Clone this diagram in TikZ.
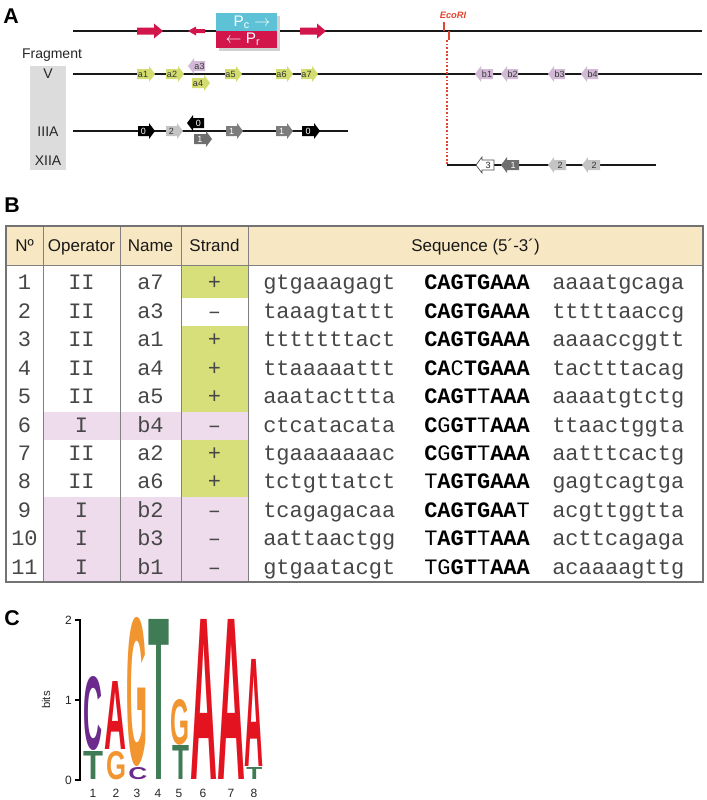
\documentclass[tikz,border=0pt]{standalone}
\usepackage{fontspec}
\setmainfont{Liberation Sans}
\setmonofont{Liberation Mono}
\usepackage{graphicx}
\definecolor{gene}{HTML}{D3DC6E}
\definecolor{lil}{HTML}{D2BAD6}
\definecolor{crim}{HTML}{D2154B}
\definecolor{cyanb}{HTML}{5EC2D7}
\definecolor{eco}{HTML}{E2452F}
\definecolor{hdr}{HTML}{F7E7C3}
\definecolor{grn}{HTML}{D7DF7B}
\definecolor{pnk}{HTML}{EEDCEC}
\definecolor{gbox}{HTML}{DCDCDC}
\definecolor{lgray}{HTML}{C4C4C4}
\definecolor{dgray}{HTML}{6E6E6E}
\definecolor{lpur}{HTML}{6C2A8C}
\definecolor{lred}{HTML}{E3131F}
\definecolor{lora}{HTML}{F0952F}
\definecolor{lgrn}{HTML}{3F7C56}
\newfontfamily\logofont{Liberation Sans Bold}
% right-pointing gene arrow: name, x1, x2, y, path style, label, text colour
\newcommand\gR[7]{%
  \path[#5] (#2,#4-5) -- (#3-6,#4-5) -- (#3-6,#4-8) -- (#3,#4) -- (#3-6,#4+8) -- (#3-6,#4+5) -- (#2,#4+5) -- cycle;
  \node[glab,text=#7] (#1) at ({(#2+#3-6)/2},#4) {#6};}
% left-pointing gene arrow
\newcommand\gL[7]{%
  \path[#5] (#3,#4-5) -- (#2+6,#4-5) -- (#2+6,#4-8) -- (#2,#4) -- (#2+6,#4+8) -- (#2+6,#4+5) -- (#3,#4+5) -- cycle;
  \node[glab,text=#7] (#1) at ({(#2+6+#3)/2},#4) {#6};}
% logo letter: name, colour, x1, x2, ytop, ybottom, letter
\newcommand\logoL[7]{%
  \pgfmathsetlengthmacro\lw{(#4-#3)*0.75pt}%
  \pgfmathsetlengthmacro\lh{(#6-#5)*0.75pt}%
  \node[inner sep=0pt,anchor=south west,text=#2] (#1) at (#3,#6) {\resizebox{\lw}{\lh}{\logofont #7}};}
\tikzset{
  dna/.style={line width=1.1pt,black!90},
  glab/.style={inner sep=0pt,font=\fontsize{6.75}{7}\selectfont},
  plab/.style={font=\bfseries\fontsize{16}{18}\selectfont,inner sep=0pt,anchor=base west},
  frag/.style={font=\fontsize{10.5}{12}\selectfont,inner sep=0pt,text=black!85},
  hdrt/.style={font=\fontsize{12.75}{14}\selectfont,inner sep=0pt,anchor=base,text=black!90},
  mono/.style={font=\ttfamily\fontsize{16.5}{18}\selectfont,inner sep=0pt,text=black!72},
  tline/.style={draw=black!50,line width=0.75pt},
  axl/.style={font=\fontsize{9}{10}\selectfont,inner sep=0pt,text=black!85},
}
\begin{document}
\begin{tikzpicture}[x=0.75pt,y=-0.75pt]
\useasboundingbox (0,0) rectangle (707,800);
% ================= Panel A =================
\node[plab] (lA) at (3,23) {A};
\fill[gbox] (30,66) rectangle (66,170);
\node[frag] (fr) at (52,55) {Fragment};
\node[frag] (fV) at (48,74) {V};
\node[frag] (fIII) at (48,132) {IIIA};
\node[frag] (fXII) at (48,161) {XIIA};
% lines
\coordinate (t0) at (73,31); \coordinate (t1) at (702,31);
\draw[dna] (t0) -- (t1);
\coordinate (v0) at (73,74); \coordinate (v1) at (702,74);
\draw[dna] (v0) -- (v1);
\coordinate (m0) at (73,131); \coordinate (m1) at (348,131);
\draw[dna] (m0) -- (m1);
\coordinate (x0) at (447,165); \coordinate (xe) at (656,165);
\draw[dna] (x0) -- (xe);
% red arrows on top line
\fill[crim] (137,27.5) -- (154,27.5) -- (154,23.5) -- (163,31) -- (154,38.5) -- (154,34.5) -- (137,34.5) -- cycle;
\fill[crim] (205,29) -- (196,29) -- (196,26.5) -- (188,31) -- (196,35.5) -- (196,33) -- (205,33) -- cycle;
\fill[crim] (300,27.5) -- (317,27.5) -- (317,23.5) -- (326,31) -- (317,38.5) -- (317,34.5) -- (300,34.5) -- cycle;
% promoter box
\fill[black!18] (218.5,15.5) rectangle (279.5,50.5);
\fill[cyanb] (216,13) rectangle (277,31);
\fill[crim] (216,31) rectangle (277,48);
\node[frag,text=white,font=\fontsize{11.5}{13}\selectfont] (pc) at (252,22) {P\textsubscript{c} $\rightarrow$};
\node[frag,text=white,font=\fontsize{11.5}{13}\selectfont] (pr) at (243,39.5) {$\leftarrow$ P\textsubscript{r}};
% EcoRI
\node[inner sep=0pt,text=eco,font=\bfseries\itshape\fontsize{7}{8}\selectfont] (eco) at (453,15) {EcoRI};
\coordinate (e1) at (444,22); \coordinate (e2) at (444,31);
\draw[eco,line width=0.8pt] (e1) -- (e2);
\coordinate (e3) at (449,31); \coordinate (e4) at (449,40);
\draw[eco,line width=1.1pt] (e3) -- (e4);
\coordinate (e5) at (447,40);
\draw[eco,line width=0.9pt,dash pattern=on 1.3pt off 1.4pt] (e5) -- (x0);
% fragment V genes
\gR{a1}{137}{155}{74}{fill=gene}{a1}{black!80}
\gR{a2}{166}{184}{74}{fill=gene}{a2}{black!80}
\gL{a3}{188}{205}{66}{fill=lil}{a3}{black!80}
\gR{a4}{192}{210}{83}{fill=gene}{a4}{black!80}
\gR{a5}{225}{242}{74}{fill=gene}{a5}{black!80}
\gR{a6}{276}{293}{74}{fill=gene}{a6}{black!80}
\gR{a7}{301}{318}{74}{fill=gene}{a7}{black!80}
\gL{b1}{475}{493}{74}{fill=lil}{b1}{black!80}
\gL{b2}{501}{518}{74}{fill=lil}{b2}{black!80}
\gL{b3}{548}{565}{74}{fill=lil}{b3}{black!80}
\gL{b4}{581}{598}{74}{fill=lil}{b4}{black!80}
% fragment IIIA genes
\gR{i1}{138}{155}{131}{fill=black}{0}{white}
\gR{i2}{166}{183}{131}{fill=lgray}{2}{black!80}
\gR{i4}{194}{212}{139}{fill=dgray}{1}{white}
\gL{i3}{187}{204}{123}{fill=black}{0}{white}
\gR{i5}{226}{243}{131}{fill=dgray!90}{1}{white}
\gR{i6}{276}{293}{131}{fill=dgray!90}{1}{white}
\gR{i7}{302}{320}{131}{fill=black}{0}{white}
% fragment XIIA genes
\gL{g1}{476}{494}{165}{fill=white,draw=black!70,line width=0.5pt}{3}{black!85}
\gL{g2}{501}{519}{165}{fill=dgray}{1}{white}
\gL{g3}{548}{566}{165}{fill=lgray}{2}{black!80}
\gL{g4}{582}{600}{165}{fill=lgray}{2}{black!80}
% ================= Panel B =================
\node[plab] (lB) at (4,212) {B};
\fill[hdr] (6,226) rectangle (703,265);
\fill[grn] (181,265) rectangle (248,298);
\fill[grn] (181,326.4) rectangle (248,411.6);
\fill[grn] (181,440) rectangle (248,496.8);
\fill[pnk] (43,411.6) rectangle (248,440);
\fill[pnk] (43,496.8) rectangle (248,582);
\draw[tline] (6,265) -- (703,265);
\foreach \xx in {43,120,181,248} { \draw[tline] (\xx,226) -- (\xx,582); }
\draw[draw=black!55,line width=1pt] (6,226) rectangle (703,582);
\node[hdrt] (h1) at (24.5,251) {Nº};
\node[hdrt] (h2) at (81.5,251) {Operator};
\node[hdrt] (h3) at (150.5,251) {Name};
\node[hdrt] (h4) at (214.5,251) {Strand};
\node[hdrt] (h5) at (475.5,251) {Sequence (5´-3´)};
\foreach \i/\op/\nm/\st/\L/\C/\R in {
  1/II/a7/+/gtgaaagagt/{\textbf{CAGTGAAA}}/aaaatgcaga,
  2/II/a3/–/taaagtattt/{\textbf{CAGTGAAA}}/tttttaaccg,
  3/II/a1/+/tttttttact/{\textbf{CAGTGAAA}}/aaaaccggtt,
  4/II/a4/+/ttaaaaattt/{\textbf{CA}C\textbf{TGAAA}}/tactttacag,
  5/II/a5/+/aaatacttta/{\textbf{CAGT}T\textbf{AAA}}/aaaatgtctg,
  6/I/b4/–/ctcatacata/{\textbf{C}G\textbf{GT}T\textbf{AAA}}/ttaactggta,
  7/II/a2/+/tgaaaaaaac/{\textbf{C}G\textbf{GT}T\textbf{AAA}}/aatttcactg,
  8/II/a6/+/tctgttatct/{T\textbf{AGTGAAA}}/gagtcagtga,
  9/I/b2/–/tcagagacaa/{\textbf{CAGTGAA}T}/acgttggtta,
  10/I/b3/–/aattaactgg/{T\textbf{AGT}T\textbf{AAA}}/acttcagaga,
  11/I/b1/–/gtgaatacgt/{TG\textbf{GT}T\textbf{AAA}}/acaaaagttg}
{
  \pgfmathsetmacro\yy{\i==1 ? 289 : 318.4+(\i-2)*28.4}
  \node[mono,anchor=base] (no\i) at (24.5,\yy) {\i};
  \node[mono,anchor=base] (op\i) at (81.5,\yy) {\op};
  \node[mono,anchor=base] (nm\i) at (150.5,\yy) {\nm};
  \node[mono,anchor=base] (st\i) at (214.5,\yy) {\st};
  \node[mono,anchor=base west] (sl\i) at (263,\yy) {\L};
  \node[mono,anchor=base west,text=black] (sc\i) at (424,\yy) {\C};
  \node[mono,anchor=base west] (sr\i) at (552,\yy) {\R};
}
% ================= Panel C =================
\node[plab] (lC) at (4,625) {C};
\coordinate (ax0) at (80,619); \coordinate (ax1) at (80,781);
\draw[line width=1.8pt] (ax0) -- (ax1);
\foreach \yy/\tl in {620/2,700/1,780/0} {
  \coordinate (tk\tl) at (75,\yy);
  \draw[line width=1pt] (tk\tl) -- (80,\yy);
  \node[axl,anchor=east] (tl\tl) at (72,\yy) {\tl};
}
\node[axl,rotate=90,font=\fontsize{8.5}{9}\selectfont] (bits) at (46,700) {bits};
\foreach \xx/\pp in {93/1,116/2,137/3,158/4,179/5,203/6,231/7,254/8} {
  \node[axl] (pos\pp) at (\xx,793) {\pp};
}
\logoL{c1a}{lpur}{83}{102}{678}{751}{C}
\logoL{c1b}{lgrn}{83}{103}{752}{780}{T}
\logoL{c2a}{lred}{104}{126}{682}{750}{A}
\logoL{c2b}{lora}{106}{126}{752}{780}{G}
\logoL{c3a}{lora}{126}{147}{620}{767}{G}
\logoL{c3b}{lpur}{128}{147}{768}{780}{C}
\logoL{c4}{lgrn}{148}{169}{620}{780}{T}
\logoL{c5a}{lora}{170}{189}{700}{745}{G}
\logoL{c5b}{lgrn}{172}{189}{746}{780}{T}
\logoL{c6}{lred}{190}{217}{620}{780}{A}
\logoL{c7}{lred}{217}{245}{620}{780}{A}
\logoL{c8a}{lred}{244}{263}{660}{767}{A}
\logoL{c8b}{lgrn}{246}{262}{768}{780}{T}
\end{tikzpicture}
\end{document}
